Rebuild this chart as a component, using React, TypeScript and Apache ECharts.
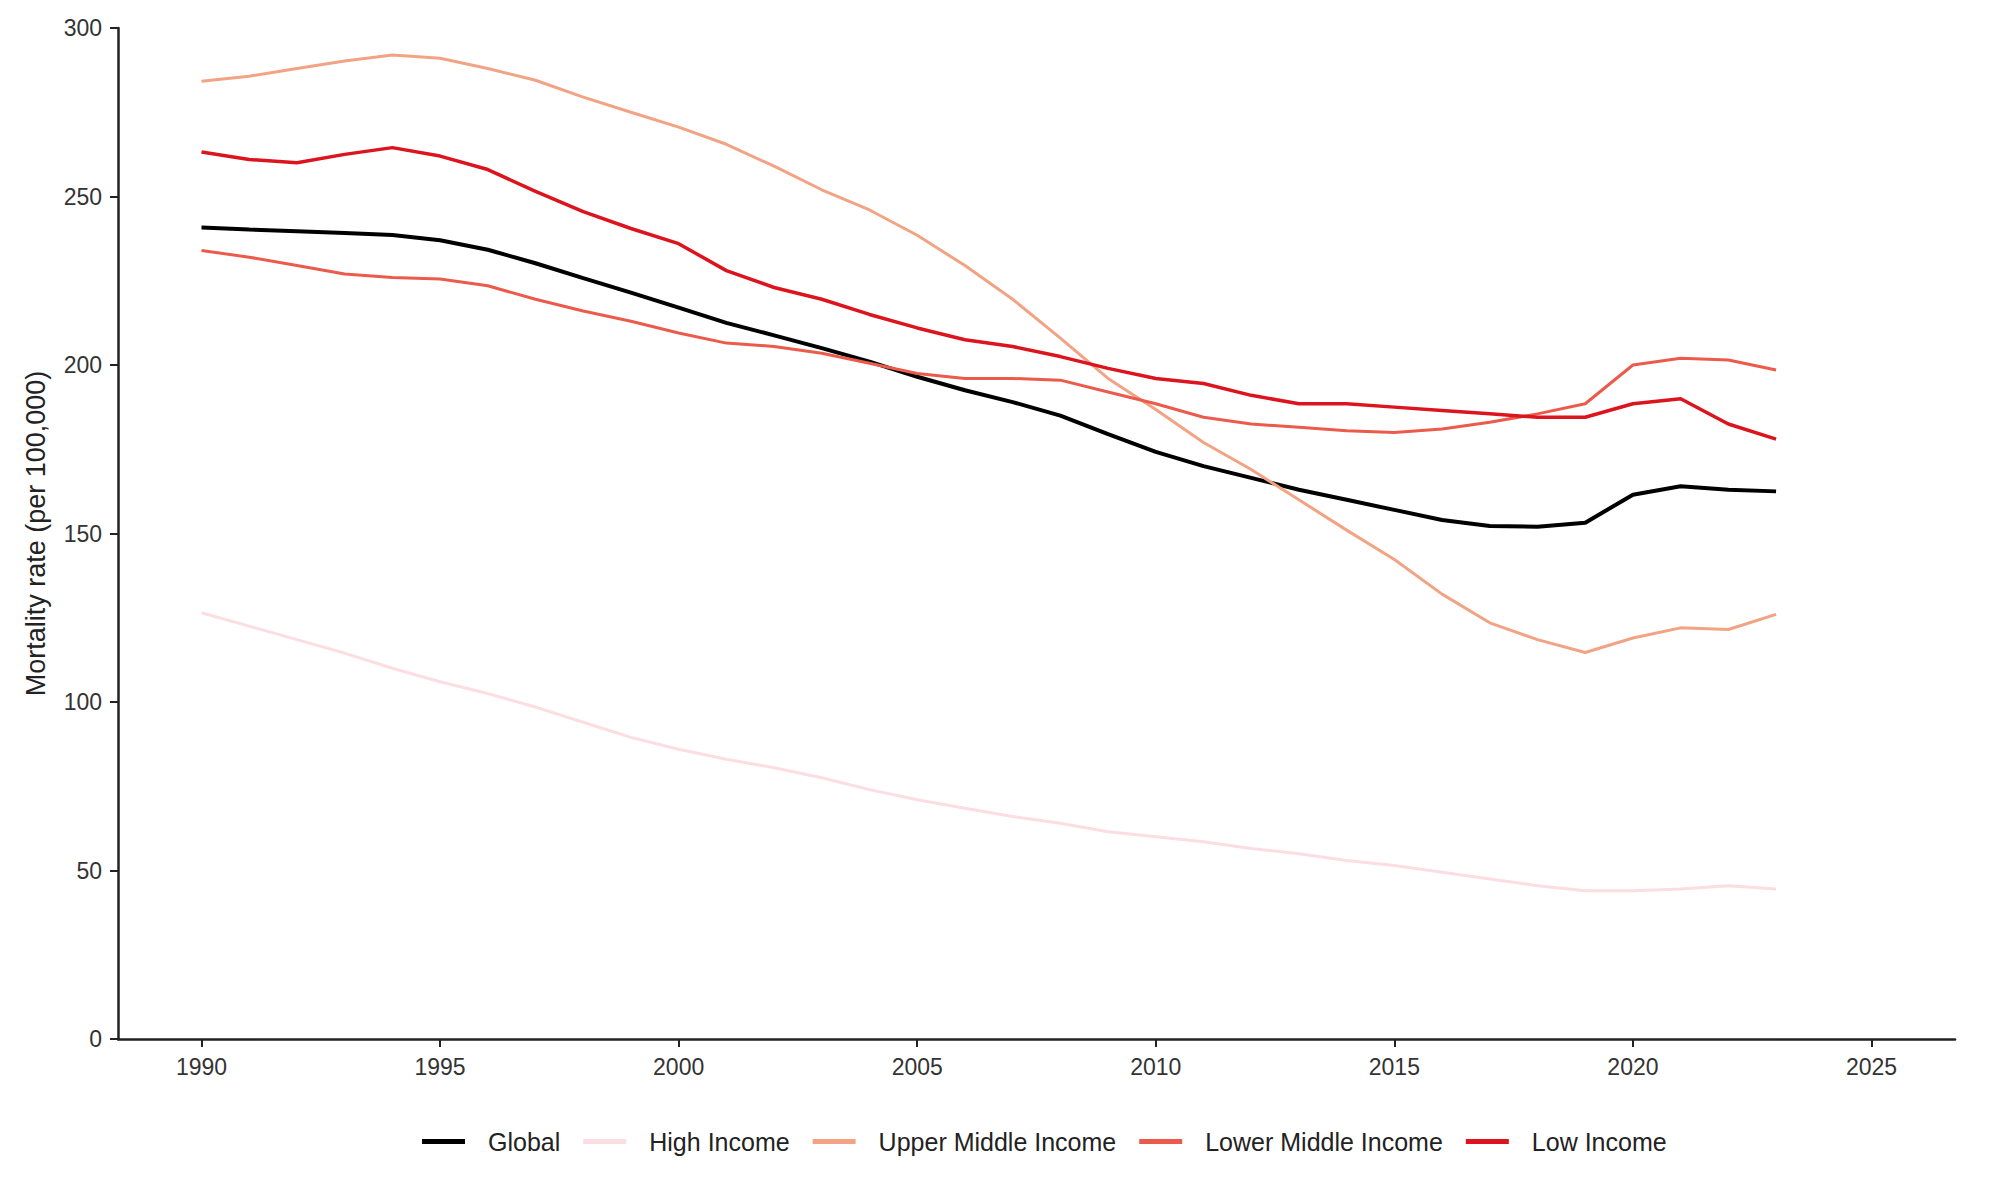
import React, { useEffect, useRef } from "react";
import * as echarts from "echarts";

const years = [
  1990, 1991, 1992, 1993, 1994, 1995, 1996, 1997, 1998, 1999,
  2000, 2001, 2002, 2003, 2004, 2005, 2006, 2007, 2008, 2009,
  2010, 2011, 2012, 2013, 2014, 2015, 2016, 2017, 2018, 2019,
  2020, 2021, 2022, 2023,
];

const globalRate = [
  240.8, 240.2, 239.7, 239.2, 238.6, 237.0, 234.2, 230.2, 225.8, 221.5,
  217.0, 212.5, 208.8, 205.0, 201.0, 196.5, 192.5, 189.0, 185.0, 179.5,
  174.2, 170.0, 166.5, 163.0, 160.0, 157.0, 154.0, 152.2, 152.0, 153.2,
  161.5, 164.0, 163.0, 162.5,
];

const highIncome = [
  126.5, 122.5, 118.5, 114.5, 110.0, 106.0, 102.5, 98.5, 94.0, 89.5,
  86.0, 83.0, 80.5, 77.5, 74.0, 71.0, 68.5, 66.0, 64.0, 61.5,
  60.0, 58.5, 56.5, 55.0, 53.0, 51.5, 49.5, 47.5, 45.5, 44.0,
  44.0, 44.5, 45.5, 44.5,
];

const upperMiddle = [
  284.2, 285.7, 288.0, 290.2, 292.0, 291.0, 288.0, 284.5, 279.5, 275.0,
  270.6, 265.5, 259.0, 252.0, 246.0, 238.5, 229.5, 219.5, 208.0, 196.0,
  186.8, 177.0, 169.0, 160.0, 151.0, 142.3, 132.0, 123.5, 118.5, 114.7,
  119.0, 122.0, 121.5, 126.0,
];

const lowerMiddle = [
  234.0, 232.0, 229.5, 227.0, 226.0, 225.5, 223.5, 219.5, 216.0, 213.0,
  209.5, 206.5, 205.5, 203.5, 200.5, 197.5, 196.0, 196.0, 195.5, 192.0,
  188.5, 184.5, 182.5, 181.5, 180.5, 180.0, 181.0, 183.0, 185.5, 188.5,
  200.0, 202.0, 201.5, 198.5,
];

const lowIncome = [
  263.2, 261.0, 260.0, 262.5, 264.5, 262.0, 258.0, 251.5, 245.5, 240.5,
  236.0, 228.0, 223.0, 219.5, 215.0, 211.0, 207.5, 205.5, 202.5, 199.0,
  196.0, 194.5, 191.0, 188.5, 188.5, 187.5, 186.5, 185.5, 184.5, 184.5,
  188.5, 190.0, 182.5, 178.0,
];

const xTickValues = [1990, 1995, 2000, 2005, 2010, 2015, 2020, 2025];

const seriesDefs = [
  { name: "Global", data: globalRate, color: "#000000", width: 4 },
  { name: "High Income", data: highIncome, color: "#fcdde1", width: 3 },
  { name: "Upper Middle Income", data: upperMiddle, color: "#f2a384", width: 3 },
  { name: "Lower Middle Income", data: lowerMiddle, color: "#ec5a4c", width: 3 },
  { name: "Low Income", data: lowIncome, color: "#dc141e", width: 3.5 },
];

const FONT = "Liberation Sans, Arial, sans-serif";

export default function App() {
  const ref = useRef<HTMLDivElement>(null);

  useEffect(() => {
    if (!ref.current) return;
    const chart = echarts.init(ref.current, undefined, { renderer: "svg" });
    const option = {
      animation: false,
      backgroundColor: "#ffffff",
      textStyle: { fontFamily: FONT },
      grid: { left: 118, right: 39, top: 28, bottom: 159, containLabel: false },
      legend: {
        left: 417,
        top: 1124,
        itemWidth: 43,
        itemHeight: 5,
        itemGap: 23,
        icon: "rect",
        data: seriesDefs.map((s) => s.name),
        textStyle: {
          fontFamily: FONT,
          fontSize: 25,
          color: "#222222",
          padding: [0, 0, 0, 18],
        },
      },
      xAxis: {
        type: "value",
        min: 1988.25,
        max: 2026.75,
        axisLine: { show: true, onZero: false, lineStyle: { color: "#222222", width: 2.5 } },
        axisTick: {
          show: true,
          length: 8,
          customValues: xTickValues,
          lineStyle: { color: "#222222", width: 2 },
        },
        axisLabel: {
          customValues: xTickValues,
          formatter: (v: number) => String(v),
          fontSize: 23,
          color: "#333333",
          margin: 16,
          fontFamily: FONT,
        },
        splitLine: { show: false },
      },
      yAxis: {
        type: "value",
        min: 0,
        max: 300,
        interval: 50,
        name: "Mortality rate (per 100,000)",
        nameLocation: "middle",
        nameGap: 69,
        nameTextStyle: { fontSize: 27, color: "#222222", fontFamily: FONT },
        axisLine: { show: true, lineStyle: { color: "#222222", width: 2.5 } },
        axisTick: { show: true, length: 8, lineStyle: { color: "#222222", width: 2 } },
        axisLabel: { fontSize: 23, color: "#333333", margin: 16, fontFamily: FONT },
        splitLine: { show: false },
      },
      series: seriesDefs.map((s) => ({
        name: s.name,
        type: "line",
        data: years.map((y, i) => [y, s.data[i]]),
        showSymbol: false,
        symbol: "none",
        smooth: false,
        color: s.color,
        lineStyle: { color: s.color, width: s.width },
        itemStyle: { color: s.color },
      })),
    };
    chart.setOption(option as any);
    return () => chart.dispose();
  }, []);

  return (
    <div
      ref={ref}
      style={{ position: "fixed", left: 0, top: 0, width: 1994, height: 1198, background: "#fff" }}
    />
  );
}
